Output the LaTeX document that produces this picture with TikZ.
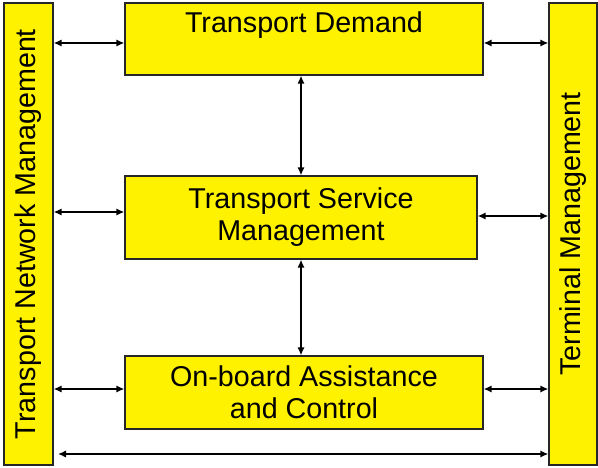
\documentclass[tikz,border=0pt]{standalone}
\usepackage{fontspec}
\setmainfont{Liberation Sans}
\usetikzlibrary{arrows.meta,positioning,calc}

\begin{document}
\begin{tikzpicture}[x=0.75pt,y=-0.75pt,
  block/.style={draw=black!85,line width=1pt,fill=yellow,inner sep=0pt,align=center,
    font=\fontsize{21.5}{24}\selectfont},
  sidetext/.style={rotate=90,font=\fontsize{21.5}{24}\selectfont},
  link/.style={{Latex[length=6pt,width=5.5pt]}-{Latex[length=6pt,width=5.5pt]},line width=1.1pt}]
  \useasboundingbox (0,0) rectangle (598,467);
  % side bars
  \node[block,minimum width=36.75pt,minimum height=346.5pt] (network) at (28.5,234) {};
  \node[sidetext] (networkText) at (network) {Transport Network Management};
  \node[block,minimum width=36pt,minimum height=346.5pt] (terminal) at (573,234) {};
  \node[sidetext] (terminalText) at (terminal) {Terminal Management};
  % middle column
  \node[block,minimum width=268.5pt,text height=22.5pt,text depth=31.5pt] (demand) at (304,39) {Transport Demand};
  \node[block,minimum width=264pt,minimum height=62.25pt] (service) at (301,217.5) {Transport Service\\Management};
  \node[block,minimum width=268.5pt,minimum height=54.75pt] (onboard) at (304,392.5) {On-board Assistance\\and Control};
  % links
  \draw[link] (network.east |- 0,43) -- (demand.west |- 0,43);
  \draw[link] (demand.east |- 0,43) -- (terminal.west |- 0,43);
  \draw[link] (network.east |- 0,212) -- (service.west |- 0,212);
  \draw[link] (service.east |- 0,216) -- (terminal.west |- 0,216);
  \draw[link] (network.east |- 0,389) -- (onboard.west |- 0,389);
  \draw[link] (onboard.east |- 0,389) -- (terminal.west |- 0,389);
  \draw[link] (demand.south -| 301,0) -- (service.north -| 301,0);
  \draw[link] (service.south -| 301,0) -- (onboard.north -| 301,0);
  \coordinate (busL) at (58,454);
  \draw[link] (busL) -- (terminal.west |- busL);
\end{tikzpicture}
\end{document}
